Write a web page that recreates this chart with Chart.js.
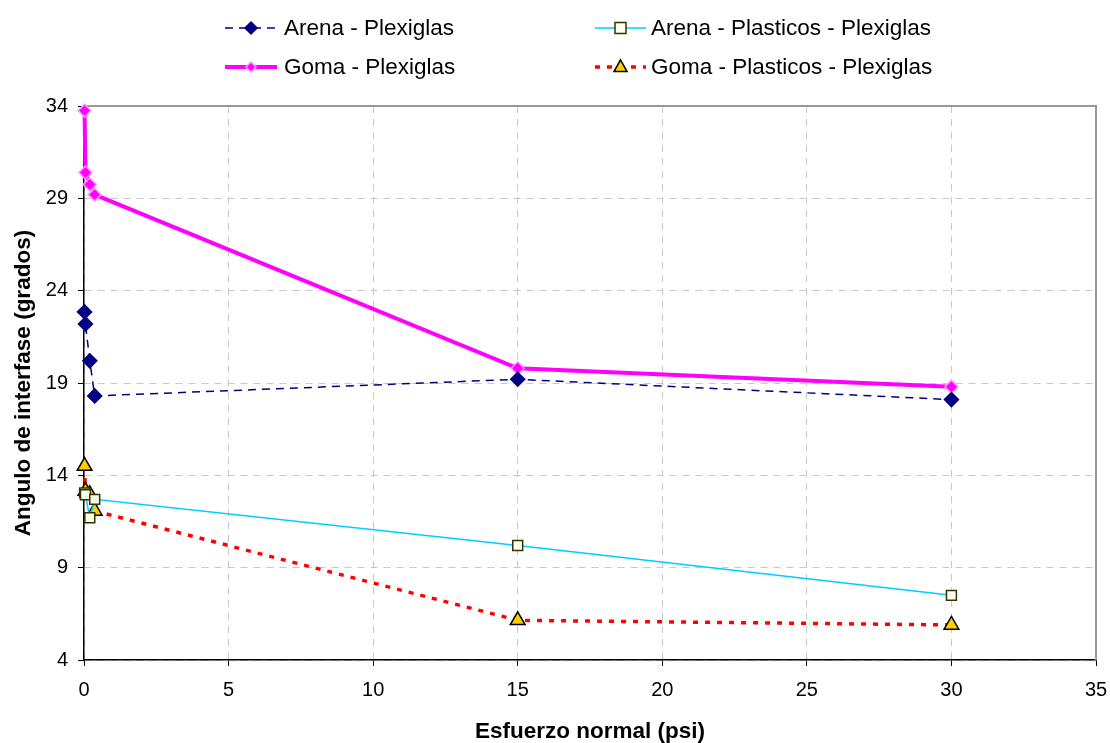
<!DOCTYPE html>
<html>
<head>
<meta charset="utf-8">
<script src="https://cdn.jsdelivr.net/npm/chart.js@4.4.1/dist/chart.umd.min.js"></script>
<style>
  html, body { margin: 0; padding: 0; background: #fff; }
  #wrap { width: 1110px; height: 743px; }
</style>
</head>
<body>
<div id="wrap"><canvas id="chart" width="1110" height="743"></canvas></div>
<script>
// esfuerzo normal (psi)
const esfuerzo = [0.02, 0.05, 0.2, 0.37, 15, 30];

// angulo de interfase (grados)
const arenaPlexiglas = [22.85, 22.2, 20.2, 18.3, 19.2, 18.1];
const gomaPlexiglas = [33.75, 30.4, 29.75, 29.2, 19.8, 18.8];
const arenaPlasticos = [13.05, 12.95, 11.7, 12.7, 10.2, 7.5];
const gomaPlasticos = [14.5, 13.15, 12.97, 12.07, 6.15, 5.9];

const xTicks = [0, 5, 10, 15, 20, 25, 30, 35];
const yTicks = [4, 9, 14, 19, 24, 29, 34];

const toPoints = ys => ys.map((y, i) => ({x: esfuerzo[i], y: y}));

const FONT = 'Liberation Sans, Arial, sans-serif';

const series = [
    {label: 'Arena - Plexiglas', data: arenaPlexiglas, color: '#000080', width: 1.5, dash: [8, 6],
     style: 'rectRot', radius: 6, pr: 7, fill: '#000080', stroke: '#000080', col: 0, row: 0},
    {label: 'Arena - Plasticos - Plexiglas', data: arenaPlasticos, color: '#00ccff', width: 1.5, dash: [],
     style: 'rect', radius: 5.5, pr: 7, fill: '#ffffee', stroke: '#333300', col: 1, row: 0},
    {label: 'Goma - Plexiglas', data: gomaPlexiglas, color: '#ff00ff', width: 4, dash: [],
     style: 'rectRot', radius: 5, pr: 6.5, fill: '#ff00ff', stroke: '#ff99ff', col: 0, row: 1},
    {label: 'Goma - Plasticos - Plexiglas', data: gomaPlasticos, color: '#ff0000', width: 3.5, dash: [5, 7],
     style: 'triangle', radius: 6.5, pr: 8.5, fill: '#ffcc00', stroke: '#000000', col: 1, row: 1}
];

// marker drawing for the legend
function drawMarker(ctx, s, x, y) {
    ctx.save();
    ctx.setLineDash([]);
    ctx.fillStyle = s.fill;
    ctx.strokeStyle = s.stroke;
    ctx.lineWidth = 1.5;
    const r = s.radius;
    ctx.beginPath();
    if (s.style === 'rect') {
        ctx.rect(x - r, y - r, 2 * r, 2 * r);
    } else if (s.style === 'rectRot') {
        ctx.moveTo(x, y - r); ctx.lineTo(x + r, y); ctx.lineTo(x, y + r); ctx.lineTo(x - r, y);
        ctx.closePath();
    } else {
        ctx.moveTo(x, y - r * 1.1); ctx.lineTo(x + r, y + r * 0.7); ctx.lineTo(x - r, y + r * 0.7);
        ctx.closePath();
    }
    ctx.fill();
    ctx.stroke();
    ctx.restore();
}

const legendPlugin = {
    id: 'gridLegend',
    afterDraw(chart) {
        const ctx = chart.ctx;
        const cols = [{x0: 225, x1: 277, text: 284}, {x0: 595, x1: 646, text: 651}];
        const rows = [28, 67];
        series.forEach(s => {
            const c = cols[s.col], y = rows[s.row];
            ctx.save();
            ctx.strokeStyle = s.color;
            ctx.lineWidth = s.width;
            ctx.setLineDash(s.dash);
            ctx.beginPath();
            ctx.moveTo(c.x0, y);
            ctx.lineTo(c.x1, y);
            ctx.stroke();
            ctx.restore();
            drawMarker(ctx, s, (c.x0 + c.x1) / 2, y);
            ctx.save();
            ctx.fillStyle = '#000';
            ctx.font = '22.5px ' + FONT;
            ctx.textBaseline = 'middle';
            ctx.fillText(s.label, c.text, y + 1);
            ctx.restore();
        });
    }
};

// grey frame on top and right of plot area
const framePlugin = {
    id: 'frame',
    beforeDatasetsDraw(chart) {
        const a = chart.chartArea, ctx = chart.ctx;
        ctx.save();
        ctx.strokeStyle = '#999999';
        ctx.lineWidth = 2;
        ctx.beginPath();
        ctx.moveTo(a.left, a.top);
        ctx.lineTo(a.right, a.top);
        ctx.lineTo(a.right, a.bottom);
        ctx.stroke();
        ctx.restore();
    }
};

new Chart(document.getElementById('chart'), {
    type: 'line',
    data: {
        datasets: series.map(s => ({
            label: s.label,
            data: toPoints(s.data),
            borderColor: s.color,
            borderWidth: s.width,
            borderDash: s.dash,
            pointStyle: s.style,
            pointRadius: s.pr,
            pointBackgroundColor: s.fill,
            pointBorderColor: s.stroke,
            pointBorderWidth: 1.5,
            tension: 0,
            fill: false,
            clip: false
        }))
    },
    options: {
        responsive: false,
        animation: false,
        events: [],
        layout: {padding: {left: 0, right: 14, top: 106, bottom: 0}},
        plugins: {legend: {display: false}, tooltip: {enabled: false}},
        scales: {
            x: {
                type: 'linear', min: 0, max: 35,
                afterBuildTicks: axis => { axis.ticks = xTicks.map(v => ({value: v})); },
                afterFit: axis => { axis.height = 83; axis.paddingRight = 0; axis.paddingLeft = 0; },
                ticks: {color: '#000', font: {family: FONT, size: 20}, padding: 12, maxRotation: 0},
                grid: {color: '#c8c8c8', tickColor: '#000', tickLength: 6, tickBorderDash: []},
                border: {display: true, color: '#000', width: 1.5, dash: [7, 6]},
                title: {display: true, text: 'Esfuerzo normal (psi)', color: '#000',
                        font: {family: FONT, size: 22.5, weight: 'bold'}, padding: {top: 16, bottom: -2.5}}
            },
            y: {
                type: 'linear', min: 4, max: 34,
                afterBuildTicks: axis => { axis.ticks = yTicks.map(v => ({value: v})); },
                afterFit: axis => { axis.width = 84; axis.paddingTop = 0; axis.paddingBottom = 0; },
                ticks: {color: '#000', font: {family: FONT, size: 20}, padding: 10},
                grid: {color: '#c8c8c8', tickColor: '#000', tickLength: 6, tickBorderDash: []},
                border: {display: true, color: '#000', width: 1.5, dash: [7, 6]},
                title: {display: true, text: 'Angulo de interfase (grados)', color: '#000',
                        font: {family: FONT, size: 22.5, weight: 'bold'}, padding: {top: 10, bottom: 0}}
            }
        }
    },
    plugins: [framePlugin, legendPlugin]
});
</script>
</body>
</html>
